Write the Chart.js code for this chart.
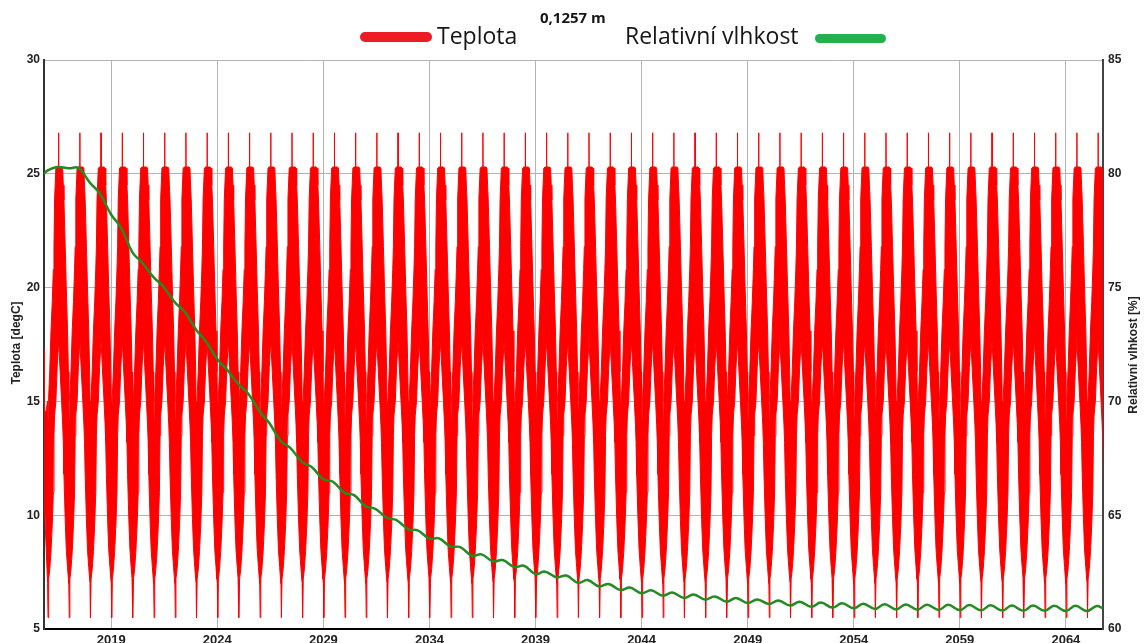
<!DOCTYPE html>
<html lang="cs">
<head>
<meta charset="utf-8">
<title>Teplota a relativní vlhkost</title>
<script src="https://cdn.jsdelivr.net/npm/chart.js@4.4.1/dist/chart.umd.min.js"></script>
<style>
  html, body { margin: 0; padding: 0; background: #fff; }
  #wrap { position: relative; width: 1146px; height: 643px; overflow: hidden; }
  #graf { position: absolute; left: 0; top: 0; }
  .leg { position: absolute; white-space: nowrap; color: #161616; }
  .txt { font-family: 'Open Sans', sans-serif; font-size: 23px; line-height: 28px; top: 21px; }
  .bar { height: 10px; border-radius: 5px; }
  #hloubka { font-family: 'Open Sans', sans-serif; font-weight: bold; font-size: 15px; line-height: 18px; left: 540px; top: 8px; }
</style>
</head>
<body>
<div id="wrap">
  <canvas id="graf" width="1146" height="643"></canvas>
  <div class="leg bar" style="left:360px; top:32px; width:72px; background:#ed1c24;"></div>
  <div class="leg txt" style="left:437px;">Teplota</div>
  <div class="leg" id="hloubka">0,1257 m</div>
  <div class="leg txt" style="left:625px;">Relativní vlhkost</div>
  <div class="leg bar" style="left:815px; top:34px; width:71px; height:9px; background:#22b14c;"></div>
</div>
<script>
// jeden klimatický rok (čas jako podíl roku), opakuje se každý rok výpočtu
const rokCas =     [0.00, 0.02, 0.05, 0.10, 0.16, 0.22, 0.27, 0.30, 0.33, 0.39, 0.45, 0.515, 0.52, 0.525, 0.58, 0.66, 0.71, 0.74, 0.77, 0.83, 0.88, 0.94, 0.98];
const teplotaMax = [15.0, 14.2, 15.2, 16.3, 18.1, 19.4, 20.8, 21.8, 23.9, 25.25, 25.3, 25.3, 26.8, 25.3, 25.3, 25.3, 25.25, 24.5, 23.85, 21.8, 20.0, 18.1, 16.3];
const teplotaMin = [7.0, 5.5, 7.2, 7.6, 8.4, 9.6, 11.0, 13.5, 14.4, 15.0, 16.5, 17.6, 18.2, 17.6, 16.5, 15.0, 14.0, 13.2, 11.8, 9.8, 8.5, 7.7, 7.2];

// začátek výpočtu před prvním celým rokem
const startCas = [2015.83, 2015.835, 2015.86, 2015.93];
const startMax = [17.3, 15.6, 14.5, 14.6];
const startMin = [12.2, 11.8, 10.4, 8.6];

const prvniRok = 2016;
const posledniRok = 2065;

// relativní vlhkost [%]: hodnota v lednu a v létě pro každý rok
const vlhkostLeden = [
  80.15, 80.24, 79.6, 78.2, 76.55, 75.45, 74.35, 73.15, 71.85, 70.75,
  69.55, 68.25, 67.33, 66.58, 65.98, 65.38, 64.88, 64.38, 63.97, 63.62,
  63.22, 62.97, 62.72, 62.42, 62.27, 62.03, 61.87, 61.71, 61.57, 61.46,
  61.36, 61.29, 61.2, 61.14, 61.1, 61.03, 60.98, 60.94, 60.91, 60.88,
  60.86, 60.85, 60.84, 60.83, 60.82, 60.81, 60.8, 60.8, 60.79, 60.79
];
const vlhkostLeto = [
  80.3, 80.26, 79.15, 77.65, 76.1, 75.05, 73.95, 72.65, 71.4, 70.35,
  69.05, 67.95, 67.12, 66.47, 65.88, 65.28, 64.78, 64.33, 63.98, 63.6,
  63.28, 63.03, 62.78, 62.52, 62.35, 62.15, 61.98, 61.82, 61.7, 61.6,
  61.52, 61.43, 61.36, 61.3, 61.25, 61.2, 61.16, 61.13, 61.11, 61.09,
  61.08, 61.07, 61.06, 61.05, 61.04, 61.03, 61.03, 61.02, 61.02, 61.01
];
const vlhkostStart = 80.0;
const vlhkostKonec = 60.9;

const xMin = 2015.83, xMax = 2065.75;
const xPopisky = [2019, 2024, 2029, 2034, 2039, 2044, 2049, 2054, 2059, 2064];

// obálka teploty (horní / dolní)
const horni = [], dolni = [];
startCas.forEach((t, i) => {
  horni.push({ x: t, y: startMax[i] });
  dolni.push({ x: t, y: startMin[i] });
});
for (let rok = prvniRok; rok <= posledniRok; rok++) {
  rokCas.forEach((t, i) => {
    horni.push({ x: rok + t, y: teplotaMax[i] });
    dolni.push({ x: rok + t, y: teplotaMin[i] });
  });
}

const vlhkost = [{ x: xMin, y: vlhkostStart }];
vlhkostLeden.forEach((v, i) => {
  vlhkost.push({ x: prvniRok + i, y: v });
  vlhkost.push({ x: prvniRok + i + 0.45, y: vlhkostLeto[i] });
});
vlhkost.push({ x: xMax, y: vlhkostKonec });

// svislé popisy os, oba čtené zdola nahoru
function svislyText(ctx, text, x, y) {
  ctx.save();
  ctx.font = 'bold 12px "Liberation Sans", Arial, sans-serif';
  ctx.fillStyle = '#222';
  ctx.textAlign = 'center';
  ctx.textBaseline = 'middle';
  ctx.translate(x, y);
  ctx.rotate(-Math.PI / 2);
  ctx.fillText(text, 0, 0);
  ctx.restore();
}

const popisOs = {
  id: 'popisOs',
  afterDraw(chart) {
    svislyText(chart.ctx, 'Teplota [degC]', 17, 343);
    svislyText(chart.ctx, 'Relativní vlhkost [%]', 1134, 355);
  }
};

const pismoX = { family: '"Liberation Sans", Arial, sans-serif', size: 13, weight: 'bold' };
const pismoY = { family: '"Liberation Sans", Arial, sans-serif', size: 12, weight: 'bold' };

new Chart(document.getElementById('graf'), {
  type: 'line',
  data: {
    datasets: [
      {
        label: 'Relativní vlhkost',
        data: vlhkost,
        yAxisID: 'y1',
        borderColor: '#228b22',
        borderWidth: 2.5,
        pointRadius: 0,
        tension: 0.4,
        fill: false,
        order: 0
      },
      {
        label: 'Teplota',
        data: horni,
        yAxisID: 'y',
        borderColor: '#ff0000',
        backgroundColor: '#ff0000',
        borderWidth: 1,
        pointRadius: 0,
        fill: '+1',
        order: 1
      },
      {
        label: 'Teplota min',
        data: dolni,
        yAxisID: 'y',
        borderColor: '#ff0000',
        borderWidth: 1,
        pointRadius: 0,
        fill: false,
        order: 2
      }
    ]
  },
  options: {
    responsive: false,
    animation: false,
    parsing: false,
    normalized: true,
    layout: { padding: { top: 60, left: 0, right: 0, bottom: 0 } },
    plugins: {
      legend: { display: false },
      tooltip: { enabled: false }
    },
    scales: {
      x: {
        type: 'linear',
        min: xMin,
        max: xMax,
        afterFit: s => { s.height = 14; },
        afterBuildTicks: s => { s.ticks = xPopisky.map(v => ({ value: v })); },
        grid: { color: '#b4b4b4', lineWidth: 1, drawTicks: false },
        border: { color: '#000', width: 2 },
        ticks: {
          padding: 4,
          autoSkip: false,
          maxRotation: 0,
          color: '#222',
          font: pismoX,
          callback: v => String(v)
        }
      },
      y: {
        position: 'left',
        min: 5,
        max: 30,
        afterFit: s => { s.width = 44; },
        grid: { color: '#b4b4b4', lineWidth: 1, drawTicks: false },
        border: { color: '#333', width: 2 },
        ticks: { stepSize: 5, padding: 4, color: '#222', font: pismoY }
      },
      y1: {
        position: 'right',
        min: 60,
        max: 85,
        afterFit: s => { s.width = 43; },
        grid: { display: false, drawTicks: false },
        border: { color: '#444', width: 2 },
        ticks: { stepSize: 5, padding: 5, color: '#222', font: pismoY }
      }
    }
  },
  plugins: [popisOs]
});
</script>
</body>
</html>
